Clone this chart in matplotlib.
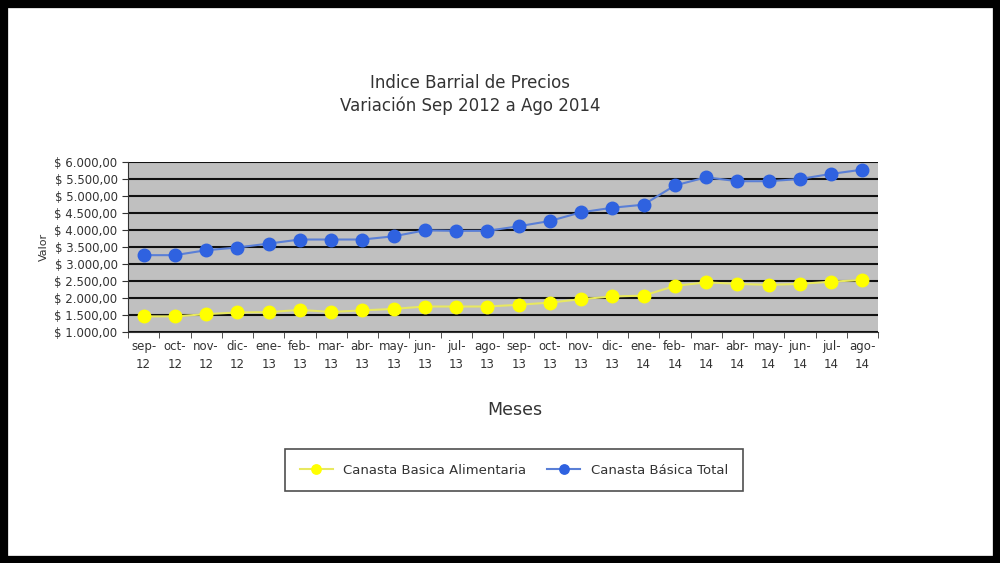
import matplotlib
matplotlib.use("Agg")
import matplotlib.pyplot as plt
from matplotlib.patches import Rectangle
from matplotlib.ticker import FuncFormatter

meses = ["sep-\n12", "oct-\n12", "nov-\n12", "dic-\n12", "ene-\n13", "feb-\n13", "mar-\n13", "abr-\n13",
         "may-\n13", "jun-\n13", "jul-\n13", "ago-\n13", "sep-\n13", "oct-\n13", "nov-\n13", "dic-\n13",
         "ene-\n14", "feb-\n14", "mar-\n14", "abr-\n14", "may-\n14", "jun-\n14", "jul-\n14", "ago-\n14"]
alimentaria = [1460, 1460, 1525, 1575, 1585, 1650, 1590, 1635, 1680, 1750, 1750, 1750,
               1800, 1865, 1965, 2045, 2070, 2355, 2460, 2415, 2385, 2415, 2480, 2530]
total = [3260, 3260, 3405, 3485, 3600, 3720, 3720, 3720, 3815, 3990, 3975, 3975,
         4110, 4265, 4520, 4655, 4745, 5310, 5550, 5435, 5435, 5500, 5650, 5775]

fig = plt.figure(figsize=(10, 5.63), dpi=100)
fig.patch.set_facecolor("white")
fig.patches.append(Rectangle((0, 0), 1, 1, transform=fig.transFigure, fill=False,
                             edgecolor="black", linewidth=11, zorder=10))

ax = fig.add_axes([0.128, 1 - 332 / 563, 0.75, 170 / 563])
ax.set_facecolor("#c0c0c0")
x = list(range(len(meses)))
ax.plot(x, alimentaria, color="#e8e860", lw=1.5, marker="o", ms=9,
        mfc="#ffff00", mec="#ffff00", label="Canasta Basica Alimentaria", zorder=3)
ax.plot(x, total, color="#5a7fd6", lw=1.5, marker="o", ms=9,
        mfc="#2f62e0", mec="#2f62e0", label="Canasta Básica Total", zorder=3)

ax.set_xlim(-0.5, len(meses) - 0.5)
ax.set_ylim(1000, 6000)
ax.set_yticks(range(1000, 6001, 500))
ax.yaxis.set_major_formatter(FuncFormatter(
    lambda v, p: "$ " + f"{v:,.2f}".replace(",", "X").replace(".", ",").replace("X", ".")))
ax.grid(axis="y", color="#111111", lw=1.5, zorder=1)
ax.set_axisbelow(True)
ax.set_xticks(x)
ax.set_xticklabels(meses, fontsize=8.5, color="#333333", linespacing=1.5)
ax.set_xticks([i + 0.5 for i in range(-1, len(meses))], minor=True)
ax.tick_params(axis="x", which="major", length=0, pad=6)
ax.tick_params(axis="x", which="minor", length=4, direction="out", color="#333333")
ax.tick_params(axis="y", labelsize=8.5, labelcolor="#333333", length=4, color="#333333")
for s in ["top", "right"]:
    ax.spines[s].set_visible(False)
for s in ["left", "bottom"]:
    ax.spines[s].set_color("#333333")

ax.set_ylabel("Valor", fontsize=8, color="#333333", labelpad=4)
fig.text(0.515, 1 - 410 / 563, "Meses", ha="center", va="center", fontsize=12.5, color="#333333")
fig.text(0.47, 1 - 83 / 563, "Indice Barrial de Precios", ha="center", va="center",
         fontsize=12, color="#333333")
fig.text(0.47, 1 - 106 / 563, "Variación Sep 2012 a Ago 2014", ha="center", va="center",
         fontsize=12, color="#333333")

leg = fig.legend(loc="center", bbox_to_anchor=(0.514, 1 - 470 / 563), ncol=2, fontsize=9.5,
                 frameon=True, fancybox=False, edgecolor="#222222", borderpad=1.1,
                 handlelength=2.5, columnspacing=1.6, markerscale=0.75)
leg.get_frame().set_linewidth(1.2)
for t in leg.get_texts():
    t.set_color("#333333")

fig.savefig("out.png", dpi=100)
